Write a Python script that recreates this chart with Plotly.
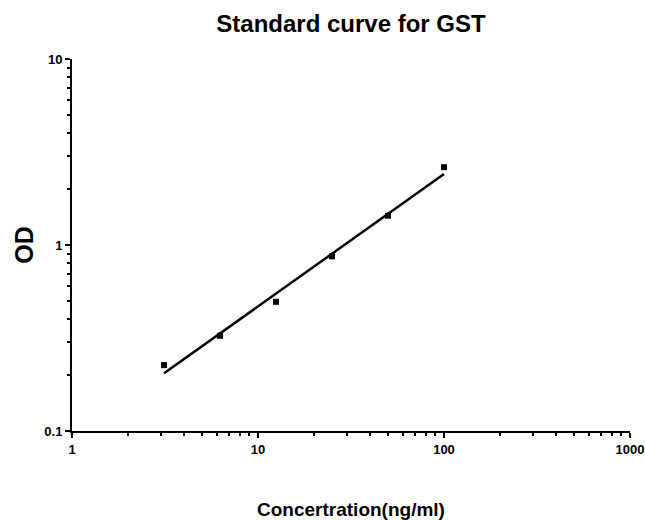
import numpy as np
import plotly.graph_objects as go

# Data
concentration = [3.125, 6.25, 12.5, 25, 50, 100]
od = [0.226, 0.325, 0.495, 0.869, 1.437, 2.62]

x_tick_vals = [1, 10, 100, 1000]
x_tick_text = ["1", "10", "100", "1000"]
y_tick_vals = [0.1, 1, 10]
y_tick_text = ["0.1", "1", "10"]

title_text = "Standard curve for GST"
x_title = "Concertration(ng/ml)"
y_title = "OD"

# Linear regression in log-log space (standard curve fit)
lx = np.log10(concentration)
ly = np.log10(od)
slope, intercept = np.polyfit(lx, ly, 1)
fit_x = np.array([min(concentration), max(concentration)])
fit_y = 10 ** (intercept + slope * np.log10(fit_x))

minor_x = [m * 10 ** e for e in range(0, 3) for m in range(2, 10)]
minor_y = [m * 10 ** e for e in range(-1, 1) for m in range(2, 10)]

FONT = "Liberation Sans, Arial, sans-serif"

fig = go.Figure()
fig.add_trace(go.Scatter(
    x=fit_x, y=fit_y, mode="lines",
    line=dict(color="black", width=2.5),
    showlegend=False, hoverinfo="skip",
))
fig.add_trace(go.Scatter(
    x=concentration, y=od, mode="markers",
    marker=dict(symbol="square", size=6, color="black"),
    showlegend=False,
))

axis_common = dict(
    showline=True, linecolor="black", linewidth=2,
    ticks="outside", ticklen=5, tickwidth=2, tickcolor="black",
    showgrid=False, zeroline=False, mirror=False, automargin=False,
    tickfont=dict(family=FONT, size=13, color="black", weight="bold"),
)

fig.update_xaxes(
    type="log", range=[0, 3],
    tickmode="array", tickvals=x_tick_vals, ticktext=x_tick_text,
    minor=dict(tickmode="array", tickvals=minor_x, ticks="outside",
               ticklen=3, tickwidth=2, tickcolor="black", showgrid=False),
    title=dict(text=x_title, standoff=48,
               font=dict(family=FONT, size=19, color="black", weight="bold")),
    **axis_common,
)
fig.update_yaxes(
    type="log", range=[-1, 1],
    tickmode="array", tickvals=y_tick_vals, ticktext=y_tick_text,
    minor=dict(tickmode="array", tickvals=minor_y, ticks="outside",
               ticklen=3, tickwidth=2, tickcolor="black", showgrid=False),
    title=dict(text=y_title, standoff=4,
               font=dict(family=FONT, size=25, color="black", weight="bold")),
    **axis_common,
)

fig.update_layout(
    width=645, height=520,
    margin=dict(l=72, r=15, t=59, b=89),
    paper_bgcolor="white", plot_bgcolor="white",
    title=dict(text=title_text, x=0.5, xanchor="center", xref="paper",
               y=0.955, yanchor="middle", yref="container",
               font=dict(family=FONT, size=24, color="black", weight="bold")),
)

fig.write_html("out.html",
               config={"displayModeBar": False},
               post_script="document.body.style.margin='0';")
